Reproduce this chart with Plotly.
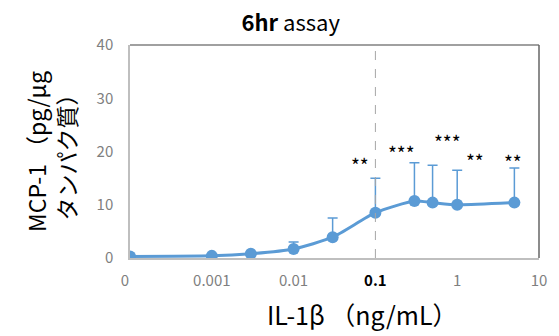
import numpy as np
import plotly.graph_objects as go

# Data
doses = [0, 0.001, 0.003, 0.01, 0.03, 0.1, 0.3, 0.5, 1, 5]
mcp1 = [0.3, 0.4, 0.8, 1.7, 3.9, 8.5, 10.7, 10.4, 10.0, 10.4]
sd_up = [0.0, 0.0, 0.2, 1.3, 3.6, 6.5, 7.2, 7.0, 6.5, 6.5]
tick_vals_dose = [0, 0.001, 0.01, 0.1, 1, 10]
tick_text = ["0\u00a0\u00a0\u00a0", "0.001", "0.01", "<span style='color:black'><b>0.1</b></span>", "1", "10"]
star_text = ["**", "***", "***", "**", "**"]
star_x_dose = [0.065, 0.21, 0.77, 1.63, 4.8]
star_y = [17.6, 19.9, 21.8, 18.4, 18.2]

ZERO_POS = -4  # log position where dose 0 is drawn


def pos(d):
    return ZERO_POS if d == 0 else float(np.log10(d))


xpos = [pos(d) for d in doses]
color = "#5B9BD5"
jp = "Noto Sans CJK JP"

fig = go.Figure()
fig.add_trace(go.Scatter(
    x=xpos, y=mcp1, mode="lines+markers",
    line=dict(color=color, width=3, shape="spline", smoothing=0.6),
    marker=dict(color=color, size=12),
    error_y=dict(type="data", array=sd_up, arrayminus=[0] * len(sd_up),
                 symmetric=False, color=color, thickness=1.5, width=5),
    showlegend=False,
))

# dashed line at 0.1
fig.add_shape(type="line", x0=pos(0.1), x1=pos(0.1), y0=0, y1=40,
              xref="x", yref="y", line=dict(color="#A6A6A6", width=1, dash="dash"))
# top and right borders
fig.add_shape(type="line", x0=0, x1=1, y0=1, y1=1, xref="paper", yref="paper",
              line=dict(color="#808080", width=1.5))
fig.add_shape(type="line", x0=1, x1=1, y0=0, y1=1, xref="paper", yref="paper",
              line=dict(color="#666666", width=1.5))

for t, xd, yv in zip(star_text, star_x_dose, star_y):
    fig.add_annotation(x=pos(xd), y=yv, text=t, showarrow=False,
                       font=dict(size=19, color="black", family=jp))

# x-axis title as annotation (offset to the right as in the reference)
fig.add_annotation(x=0.568, y=-0.265, xref="paper", yref="paper", text="IL-1β （ng/mL）",
                   showarrow=False, xanchor="center", yanchor="middle",
                   font=dict(size=25, color="black", family=jp))

fig.update_layout(
    width=559, height=336,
    margin=dict(l=130, r=15, t=45, b=78),
    paper_bgcolor="white", plot_bgcolor="white",
    title=dict(text="<b>6hr</b> assay", x=0.52, xanchor="center", y=0.93, yanchor="middle",
               font=dict(size=22, color="black", family=jp)),
    xaxis=dict(range=[-4, 1], tickvals=[pos(v) for v in tick_vals_dose], ticktext=tick_text,
               showgrid=False, zeroline=False, showline=True, linecolor="#BFBFBF", linewidth=1.5,
               ticks="", ticklabelstandoff=8, tickfont=dict(size=15, color="#7F7F7F", family=jp)),
    yaxis=dict(range=[0, 40], tickvals=[0, 10, 20, 30, 40], showgrid=False, zeroline=False,
               showline=True, linecolor="#BFBFBF", linewidth=1.5, ticks="",
               ticklabelstandoff=12, tickfont=dict(size=15, color="#7F7F7F", family=jp),
               title=dict(text="MCP-1 （pg/μg<br>タンパク質）",
                          font=dict(size=23, color="black", family=jp), standoff=14)),
)

fig.write_html("out.html")
